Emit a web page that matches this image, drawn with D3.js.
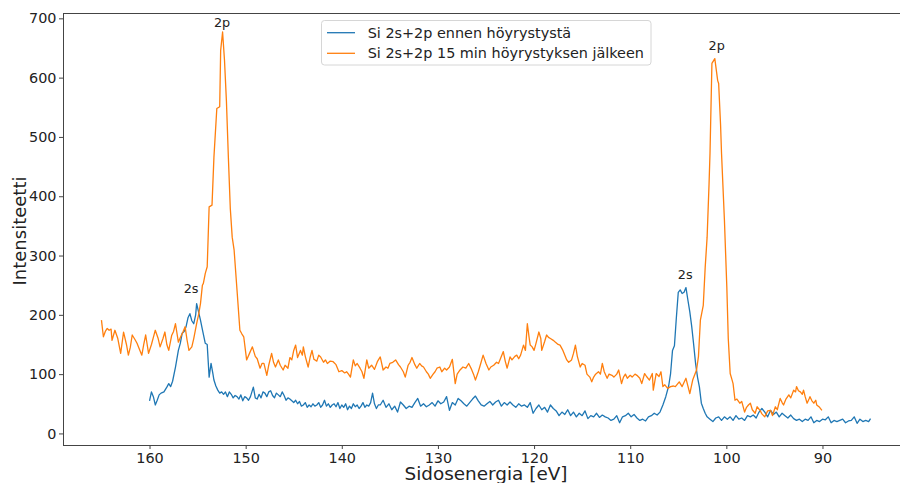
<!DOCTYPE html>
<html>
<head>
<meta charset="utf-8">
<script src="https://d3js.org/d3.v7.min.js"></script>
<style>
  body { margin: 0; background: #fff; }
  svg text { font-family: "DejaVu Sans", sans-serif; fill: #222; }
  .line { fill: none; stroke-width: 1.3px; stroke-linejoin: round; }
</style>
</head>
<body>
<svg width="900" height="483"></svg>
<script>
// series: [binding energy eV, intensity]
var seriesNames = ["Si 2s+2p ennen höyrystystä", "Si 2s+2p 15 min höyrystyksen jälkeen"];
var colors = ["#1f77b4", "#ff7f0e"];
var xTicks = [160, 150, 140, 130, 120, 110, 100, 90];
var yTicks = [0, 100, 200, 300, 400, 500, 600, 700];

var before = [
  [160.0,55],[159.8,70],[159.6,62],[159.4,48],[159.2,56],[159.0,65],[158.8,68],[158.5,70],[158.2,78],[158.0,84],
  [157.8,79],[157.6,88],[157.3,112],[157.0,140],[156.8,152],[156.6,169],[156.4,172],[156.2,180],[156.0,195],[155.8,202],
  [155.6,190],[155.4,185],[155.2,200],[155.1,219],[154.9,205],[154.7,191],[154.5,175],[154.2,152],[154.0,150],[153.8,95],
  [153.6,118],[153.4,100],[153.3,90],[153.1,80],[152.9,73],[152.7,68],[152.5,70],[152.3,66],[152.1,70],[151.9,62],
  [151.7,70],[151.5,66],[151.3,60],[151.1,64],[150.9,62],[150.7,58],[150.5,65],[150.3,55],[150.1,62],[149.9,60],
  [149.7,56],[149.5,62],[149.2,78],[149.0,60],[148.8,58],[148.6,66],[148.4,60],[148.2,70],[148.0,68],[147.8,62],
  [147.6,70],[147.4,72],[147.2,64],[147.0,60],[146.8,68],[146.6,65],[146.4,62],[146.2,70],[146.0,64],[145.8,56],
  [145.6,60],[145.4,58],[145.2,55],[145.0,52],[144.8,56],[144.6,50],[144.4,54],[144.2,46],[144.0,48],[143.8,52],
  [143.6,44],[143.4,48],[143.2,45],[143.0,50],[142.8,46],[142.6,48],[142.4,52],[142.2,44],[142.0,48],[141.8,56],
  [141.6,46],[141.4,50],[141.2,44],[141.0,48],[140.8,50],[140.6,45],[140.4,52],[140.2,42],[140.0,48],[139.8,44],
  [139.6,50],[139.4,40],[139.2,46],[139.0,42],[138.8,50],[138.6,45],[138.4,48],[138.2,42],[138.0,46],[137.8,52],
  [137.6,44],[137.4,48],[137.2,46],[137.0,52],[136.8,68],[136.6,50],[136.4,42],[136.2,48],[136.0,48],[135.7,56],
  [135.4,44],[135.1,50],[134.8,40],[134.5,46],[134.2,36],[133.9,53],[133.6,48],[133.3,42],[133.0,46],[132.7,44],
  [132.4,52],[132.1,59],[131.8,46],[131.5,50],[131.2,45],[130.9,48],[130.6,52],[130.3,46],[130.0,55],[129.7,50],
  [129.4,53],[129.1,62],[128.8,39],[128.5,52],[128.2,48],[127.9,59],[127.6,55],[127.3,50],[127.0,46],[126.7,52],
  [126.4,58],[126.1,63],[125.8,55],[125.5,48],[125.2,46],[124.9,50],[124.6,54],[124.3,48],[124.0,53],[123.7,56],
  [123.4,46],[123.1,52],[122.8,48],[122.5,53],[122.2,48],[121.9,44],[121.6,50],[121.3,46],[121.0,48],[120.7,44],
  [120.4,52],[120.1,34],[119.8,42],[119.5,48],[119.2,40],[118.9,44],[118.6,36],[118.3,48],[118.0,42],[117.7,38],
  [117.4,30],[117.1,36],[116.8,32],[116.5,40],[116.2,30],[115.9,36],[115.6,28],[115.3,34],[115.0,30],[114.7,38],
  [114.4,25],[114.1,30],[113.8,28],[113.5,34],[113.2,27],[112.9,31],[112.6,28],[112.3,26],[112.0,22],[111.7,24],
  [111.4,30],[111.1,18],[110.8,28],[110.5,30],[110.2,34],[109.9,28],[109.6,32],[109.3,26],[109.0,22],[108.7,24],
  [108.4,21],[108.1,28],[107.8,30],[107.5,34],[107.2,31],[106.9,36],[106.6,48],[106.3,62],[106.0,80],[105.8,101],
  [105.6,140],[105.4,148],[105.2,195],[105.0,238],[104.8,242],[104.6,236],[104.4,238],[104.2,246],[104.0,225],[103.8,205],
  [103.6,180],[103.4,150],[103.2,118],[103.0,95],[102.8,78],[102.6,51],[102.4,42],[102.2,34],[102.0,28],[101.7,24],
  [101.4,20],[101.1,26],[100.8,28],[100.5,22],[100.2,28],[99.9,24],[99.6,28],[99.3,22],[99.0,30],[98.7,24],
  [98.4,26],[98.1,22],[97.8,30],[97.5,28],[97.2,31],[96.9,26],[96.6,36],[96.3,42],[96.0,36],[95.7,28],
  [95.4,39],[95.1,32],[94.8,36],[94.5,28],[94.2,34],[93.9,30],[93.6,26],[93.3,31],[93.0,25],[92.7,22],
  [92.4,24],[92.1,20],[91.8,24],[91.5,22],[91.2,28],[90.9,18],[90.6,22],[90.3,20],[90.0,24],[89.7,23],
  [89.4,28],[89.1,18],[88.8,22],[88.5,20],[88.2,22],[87.9,24],[87.6,18],[87.3,21],[87.0,22],[86.7,28],
  [86.4,17],[86.1,24],[85.8,20],[85.5,22],[85.2,20],[85.0,25]
];

var after = [
  [165.0,191],[164.8,163],[164.6,172],[164.4,177],[164.2,174],[164.0,176],[163.9,157],[163.6,174],[163.3,160],[163.0,135],
  [162.7,171],[162.4,150],[162.2,132],[162.0,145],[161.8,166],[161.5,158],[161.3,152],[161.0,140],[160.8,132],[160.6,150],
  [160.4,166],[160.1,135],[159.8,150],[159.6,162],[159.4,174],[159.1,160],[158.9,146],[158.6,160],[158.4,171],[158.2,150],
  [158.0,140],[157.7,165],[157.5,172],[157.3,185],[157.0,154],[156.7,165],[156.5,172],[156.3,180],[156.1,158],[155.9,140],
  [155.6,146],[155.4,160],[155.1,185],[154.9,200],[154.7,219],[154.5,250],[154.4,253],[154.2,270],[154.0,281],[153.8,382],
  [153.5,385],[153.3,466],[153.0,548],[152.7,551],[152.6,646],[152.4,677],[152.2,629],[152.0,560],[151.8,466],[151.6,380],
  [151.4,331],[151.2,309],[150.9,242],[150.6,174],[150.4,168],[150.2,163],[149.9,124],[149.6,135],[149.3,146],[149.0,130],
  [148.8,126],[148.5,110],[148.3,118],[148.1,118],[147.8,98],[147.6,115],[147.3,135],[147.1,120],[146.9,112],[146.6,124],
  [146.4,115],[146.1,107],[145.9,115],[145.6,110],[145.4,128],[145.2,124],[145.0,140],[144.8,149],[144.6,128],[144.3,140],
  [144.1,132],[144.0,146],[143.8,130],[143.5,112],[143.3,128],[143.1,140],[142.9,125],[142.6,122],[142.4,132],[142.2,129],
  [141.9,120],[141.7,124],[141.5,118],[141.2,122],[140.9,121],[140.6,116],[140.3,104],[140.0,106],[139.7,102],[139.5,104],
  [139.3,100],[139.1,95],[138.8,124],[138.6,114],[138.4,118],[138.1,110],[137.9,104],[137.7,93],[137.4,124],[137.2,110],
  [136.9,115],[136.6,108],[136.3,121],[136.0,129],[135.7,107],[135.4,112],[135.2,110],[135.0,118],[134.7,120],[134.4,124],
  [134.1,116],[133.9,112],[133.6,104],[133.4,95],[133.1,115],[132.9,120],[132.7,128],[132.4,116],[132.2,110],[131.9,118],
  [131.7,114],[131.5,112],[131.2,104],[131.0,100],[130.8,93],[130.5,100],[130.3,104],[130.1,110],[129.8,112],[129.6,104],
  [129.3,110],[129.1,107],[128.8,112],[128.5,125],[128.2,84],[128.0,100],[127.7,107],[127.4,112],[127.1,110],[126.8,118],
  [126.5,108],[126.3,100],[126.1,90],[125.8,104],[125.6,115],[125.3,132],[125.0,118],[124.7,107],[124.5,112],[124.2,115],
  [123.9,120],[123.7,118],[123.5,126],[123.2,138],[123.0,122],[122.8,110],[122.5,129],[122.3,124],[122.0,130],[121.8,132],
  [121.6,126],[121.4,132],[121.1,149],[120.9,140],[120.7,185],[120.5,160],[120.4,149],[120.2,146],[120.0,140],[119.8,152],
  [119.5,171],[119.3,160],[119.2,140],[118.9,155],[118.7,166],[118.5,162],[118.3,160],[118.0,157],[117.8,154],[117.5,150],
  [117.3,149],[117.0,140],[116.8,132],[116.6,124],[116.4,120],[116.1,124],[115.9,135],[115.7,149],[115.5,130],[115.2,112],
  [115.0,118],[114.7,115],[114.5,100],[114.2,95],[114.0,87],[113.8,95],[113.6,100],[113.3,104],[113.1,100],[112.9,118],
  [112.7,104],[112.4,93],[112.2,100],[111.9,98],[111.7,95],[111.4,100],[111.2,107],[110.9,84],[110.7,95],[110.5,100],
  [110.3,93],[110.0,98],[109.8,95],[109.5,100],[109.3,98],[109.0,93],[108.8,84],[108.5,101],[108.3,96],[108.0,90],
  [107.7,101],[107.6,73],[107.3,101],[107.0,96],[106.8,104],[106.6,79],[106.4,82],[106.1,76],[105.8,79],[105.5,80],
  [105.3,79],[104.9,87],[104.6,79],[104.2,93],[103.8,67],[103.5,90],[103.1,107],[102.9,130],[102.7,191],[102.4,216],
  [102.2,280],[102.0,331],[101.8,420],[101.7,472],[101.5,624],[101.2,632],[100.9,595],[100.8,590],[100.6,520],[100.5,472],
  [100.2,360],[99.95,247],[99.8,160],[99.6,101],[99.4,90],[99.3,84],[99.1,56],[98.9,58],[98.6,51],[98.4,54],
  [98.1,36],[97.9,44],[97.7,48],[97.5,51],[97.3,40],[97.0,34],[96.8,45],[96.5,39],[96.3,33],[96.0,28],
  [95.7,38],[95.4,39],[95.2,30],[94.9,45],[94.7,40],[94.4,59],[94.2,52],[94.05,48],[93.8,58],[93.5,65],
  [93.3,60],[93.0,73],[92.8,70],[92.7,79],[92.5,72],[92.3,70],[92.1,66],[91.97,73],[91.8,62],[91.6,51],
  [91.4,58],[91.3,62],[91.1,55],[90.9,51],[90.7,56],[90.6,48],[90.3,44],[90.06,39]
];

// peak labels: [eV, intensity, text]
var annotations = [
  [153.3, 685, "2p"],
  [156.45, 237, "2s"],
  [105.05, 261, "2s"],
  [101.85, 647, "2p"]
];

var svg = d3.select("svg");
var plotLeft = 63, plotTop = 13, plotBottom = 445, plotRight = 909;

var x = d3.scaleLinear().domain([169, 81]).range([plotLeft, plotRight]);
var y = d3.scaleLinear().domain([-19.5, 709]).range([plotBottom, plotTop]);

svg.append("clipPath").attr("id", "clip")
  .append("rect").attr("x", plotLeft).attr("y", plotTop)
  .attr("width", plotRight - plotLeft).attr("height", plotBottom - plotTop);

var line = d3.line().x(function(d) { return x(d[0]); }).y(function(d) { return y(d[1]); });

var plot = svg.append("g").attr("clip-path", "url(#clip)");
[before, after].forEach(function(s, i) {
  plot.append("path").datum(s).attr("class", "line").attr("stroke", colors[i]).attr("d", line);
});

// axes
var xAxis = svg.append("g").attr("transform", "translate(0," + plotBottom + ")")
  .call(d3.axisBottom(x).tickValues(xTicks).tickSize(4).tickPadding(4));
var yAxis = svg.append("g").attr("transform", "translate(" + plotLeft + ",0)")
  .call(d3.axisLeft(y).tickValues(yTicks).tickSize(4).tickPadding(2.5));
[xAxis, yAxis].forEach(function(a) {
  a.select(".domain").remove();
  a.selectAll("line").attr("stroke", "#444");
  a.selectAll("text").attr("font-size", 14.4).attr("font-family", "DejaVu Sans").attr("fill", "#222");
});

// frame
svg.append("rect").attr("x", plotLeft + 0.5).attr("y", plotTop + 0.5)
  .attr("width", plotRight - plotLeft).attr("height", plotBottom - plotTop)
  .attr("fill", "none").attr("stroke", "#444").attr("stroke-width", 1);

// axis titles
svg.append("text").attr("x", (plotLeft + plotRight) / 2).attr("y", 480)
  .attr("text-anchor", "middle").attr("font-size", 18.4).text("Sidosenergia [eV]");
svg.append("text").attr("transform", "translate(25.5,231) rotate(-90)")
  .attr("text-anchor", "middle").attr("font-size", 18).text("Intensiteetti");

// peak annotations
svg.selectAll(".ann").data(annotations).enter().append("text")
  .attr("class", "ann")
  .attr("x", function(d) { return x(d[0]); })
  .attr("y", function(d) { return y(d[1]); })
  .attr("font-size", 12.8).attr("fill", "#111")
  .text(function(d) { return d[2]; });

// legend
var lg = svg.append("g");
lg.append("rect").attr("x", 321.5).attr("y", 20.5).attr("width", 329.5).attr("height", 44.5)
  .attr("rx", 3).attr("fill", "#fff").attr("fill-opacity", 0.8).attr("stroke", "#d6d6d6");
seriesNames.forEach(function(name, i) {
  var cy = 32.7 + i * 20.6;
  lg.append("line").attr("x1", 327).attr("x2", 355).attr("y1", cy).attr("y2", cy)
    .attr("stroke", colors[i]).attr("stroke-width", 1.3);
  lg.append("text").attr("x", 367.7).attr("y", cy + 5).attr("font-size", 14.4).text(name);
});
</script>
</body>
</html>
